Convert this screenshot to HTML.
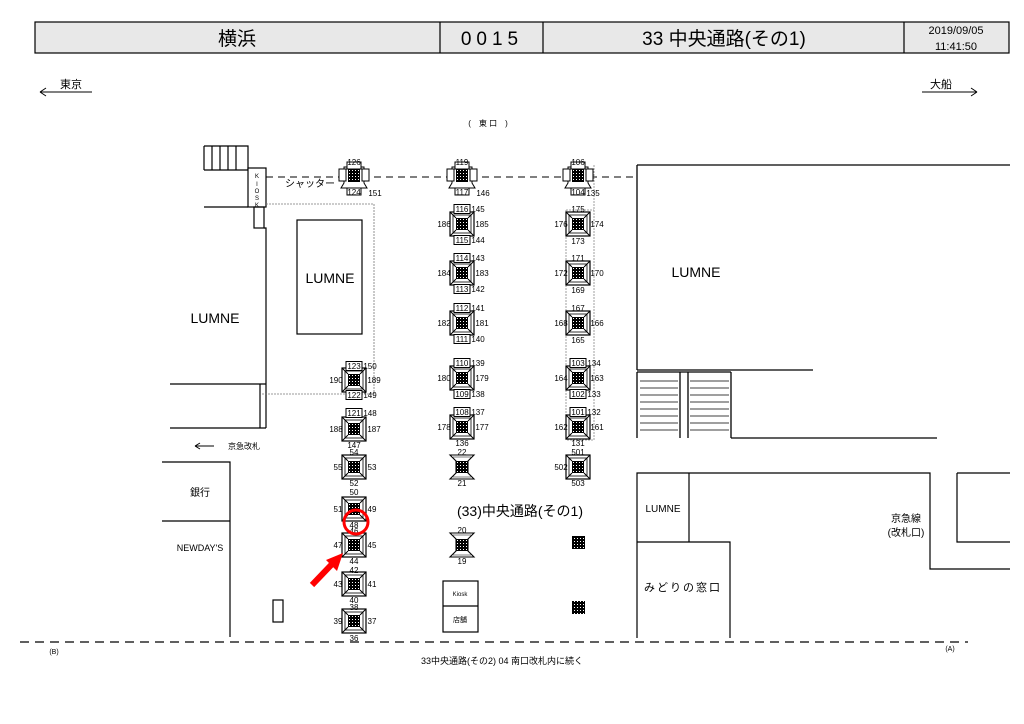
<!DOCTYPE html>
<html><head><meta charset="utf-8"><style>
html,body{margin:0;padding:0;background:#fff;}
svg{display:block;}
text{font-family:"Liberation Sans Narrow","Liberation Sans","Noto Sans CJK JP",sans-serif;fill:#000;}
.n{font-size:8px;text-anchor:middle;}
.j{font-family:"Liberation Sans","Noto Sans CJK JP",sans-serif;}
</style></head><body>
<svg width="1024" height="724" viewBox="0 0 1024 724" xmlns="http://www.w3.org/2000/svg">
<defs>
<pattern id="hp" width="3" height="3" patternUnits="userSpaceOnUse"><rect width="3" height="3" fill="#000"/><rect x="1" y="1" width="1" height="1" fill="#fff"/></pattern>
<g id="P"><rect x="-12" y="-12" width="24" height="24" fill="#fff" stroke="#000" stroke-width="1.2"/><rect x="-9" y="-9" width="18" height="18" fill="none" stroke="#000" stroke-width="0.8"/><path d="M-12,-12L-6,-6M12,-12L6,-6M-12,12L-6,6M12,12L6,6" stroke="#000"/><rect x="-6" y="-6" width="12" height="12" fill="url(#hp)"/></g>
<g id="H"><path d="M-12,-12H12L6,-6V6L12,12H-12L-6,6V-6Z" fill="#fff" stroke="#000" stroke-width="1.1"/><path d="M-9,-10H9M-9,10H9" stroke="#000" stroke-width="0.6"/><rect x="-6" y="-6" width="12" height="12" fill="url(#hp)"/></g>
<g id="C"><path d="M-10,-8H10V8L13,13H-13L-10,8Z" fill="#fff" stroke="#000"/><rect x="-6" y="-7" width="12" height="14" fill="url(#hp)"/><rect x="-15" y="-6" width="7" height="12" fill="#fff" stroke="#000"/><rect x="8" y="-6" width="7" height="12" fill="#fff" stroke="#000"/><rect x="-7" y="-13" width="14" height="7" fill="#fff" stroke="#000"/><rect x="-7" y="13" width="14" height="7" fill="#fff" stroke="#000"/></g>
<g id="B"><rect x="-8" y="-4.5" width="16" height="9" fill="#fff" stroke="#000"/></g>
</defs>

<!-- header -->
<rect x="35" y="22" width="974" height="31" fill="#e8e8e8" stroke="#000" stroke-width="1.2"/>
<path d="M440,22V53M543,22V53M904,22V53" stroke="#000" stroke-width="1.2"/>
<text x="237" y="45" font-size="19" text-anchor="middle" class="j">横浜</text>
<text x="492" y="45" font-size="19" text-anchor="middle" letter-spacing="5">0015</text>
<text x="724" y="45" font-size="19" text-anchor="middle" class="j">33 中央通路(その1)</text>
<text x="956" y="34" font-size="11" text-anchor="middle">2019/09/05</text>
<text x="956" y="50" font-size="11" text-anchor="middle">11:41:50</text>

<!-- direction arrows -->
<path d="M40,92H92M40,92l6,-4M40,92l6,4" stroke="#000" fill="none"/>
<text x="60" y="88" font-size="11" class="j">東京</text>
<path d="M922,92H977M977,92l-6,-4M977,92l-6,4" stroke="#000" fill="none"/>
<text x="930" y="88" font-size="11" class="j">大船</text>
<text x="488" y="126" font-size="8" text-anchor="middle" class="j">(　東 口　)</text>

<!-- left structures -->
<g stroke="#000" fill="none" stroke-width="1.2">
<path d="M204,146H248V170M204,146V170M212,146V170M220,146V170M228,146V170M236,146V170M204,170H248"/>
<rect x="248" y="168" width="18" height="39" fill="#fff"/>
<path d="M204,207H248"/>
<rect x="254" y="207" width="10" height="21"/>
<path d="M264,228H266V384M170,384H266M260,384V428M266,384V428M170,428H266"/>
<rect x="297" y="220" width="65" height="114"/>
</g>
<text x="257" y="178" font-size="6" text-anchor="middle">K</text>
<text x="257" y="186" font-size="6" text-anchor="middle">I</text>
<text x="257" y="193" font-size="6" text-anchor="middle">O</text>
<text x="257" y="200" font-size="6" text-anchor="middle">S</text>
<text x="257" y="207" font-size="6" text-anchor="middle">K</text>
<path d="M266,204H374V394H262" stroke="#777" fill="none" stroke-dasharray="2,1" stroke-width="0.8"/>
<text x="215" y="323" font-size="14" text-anchor="middle" class="j">LUMNE</text>
<text x="330" y="283" font-size="14" text-anchor="middle" class="j">LUMNE</text>
<path d="M266,177H636" stroke="#000" stroke-dasharray="7,5" stroke-width="1"/>
<text x="285" y="187" font-size="10" class="j">シャッター</text>
<path d="M195,446H214M195,446l5,-3M195,446l5,3" stroke="#000" fill="none"/>
<text x="228" y="449" font-size="8" class="j">京急改札</text>

<!-- right big LUMNE -->
<g stroke="#000" fill="none" stroke-width="1.3">
<path d="M637,165V370M637,165H1010M637,370H813"/>
<path d="M637,372V438M680,372V438M688,372V438M731,372V438M731,438H937M637,372H731"/>
<path d="M640,381H678M640,388H678M640,395H678M640,402H678M640,409H678M640,416H678M640,423H678M640,430H678M690,381H729M690,388H729M690,395H729M690,402H729M690,409H729M690,416H729M690,423H729M690,430H729" stroke-width="0.8"/>
</g>
<text x="696" y="277" font-size="14" text-anchor="middle" class="j">LUMNE</text>
<path d="M594,165V440M566,210H594M566,210V440H594" stroke="#888" fill="none" stroke-dasharray="2,1" stroke-width="0.8"/>

<!-- bottom blocks -->
<g stroke="#000" fill="none" stroke-width="1.2">
<path d="M162,462H230V637M162,521H230"/>
<path d="M637,638V473H930V569H1010M957,473H1010M957,473V542H1010M637,542H730V638M689,473V542"/>
<rect x="443" y="581" width="35" height="51"/><path d="M443,606H478"/>
<rect x="273" y="600" width="10" height="22"/>
</g>
<text x="200" y="496" font-size="10" text-anchor="middle" class="j">銀行</text>
<text x="200" y="551" font-size="9" text-anchor="middle" class="j">NEWDAY'S</text>
<text x="663" y="512" font-size="10" text-anchor="middle" class="j">LUMNE</text>
<text x="683" y="591" font-size="11" text-anchor="middle" class="j" letter-spacing="2">みどりの窓口</text>
<text x="906" y="522" font-size="10" text-anchor="middle" class="j">京急線</text>
<text x="906" y="536" font-size="10" text-anchor="middle" class="j">(改札口)</text>
<text x="460" y="596" font-size="6" text-anchor="middle">Kiosk</text>
<text x="460" y="622" font-size="7" text-anchor="middle" class="j">店舗</text>
<text x="520" y="516" font-size="14" text-anchor="middle" class="j">(33)中央通路(その1)</text>
<path d="M20,642H968" stroke="#000" stroke-dasharray="9,6" stroke-width="1.3"/>
<text x="54" y="654" font-size="7" text-anchor="middle">(B)</text>
<text x="950" y="651" font-size="7" text-anchor="middle">(A)</text>
<text x="502" y="664" font-size="9" text-anchor="middle" class="j">33中央通路(その2) 04 南口改札内に続く</text>

<!-- column A x=354 -->
<use href="#C" x="354" y="175"/>
<text class="n" x="354" y="165">126</text><text class="n" x="354" y="195">124</text><text class="n" x="375" y="196" text-anchor="start">151</text>
<use href="#P" x="354" y="380"/>
<use href="#B" x="354" y="366"/><text class="n" x="354" y="369">123</text><text class="n" x="370" y="369" text-anchor="start">150</text>
<use href="#B" x="354" y="395"/><text class="n" x="354" y="398">122</text><text class="n" x="370" y="398" text-anchor="start">149</text>
<text class="n" x="336" y="383">190</text><text class="n" x="374" y="383">189</text>
<use href="#P" x="354" y="429"/>
<use href="#B" x="354" y="413"/><text class="n" x="354" y="416">121</text><text class="n" x="370" y="416" text-anchor="start">148</text>
<text class="n" x="336" y="432">188</text><text class="n" x="374" y="432">187</text><text class="n" x="354" y="448">147</text>
<use href="#P" x="354" y="467"/><text class="n" x="354" y="455">54</text><text class="n" x="338" y="470">55</text><text class="n" x="372" y="470">53</text><text class="n" x="354" y="486">52</text>
<use href="#P" x="354" y="509"/><text class="n" x="354" y="495">50</text><text class="n" x="338" y="512">51</text><text class="n" x="372" y="512">49</text><text class="n" x="354" y="528">48</text>
<use href="#P" x="354" y="545"/><text class="n" x="354" y="534">46</text><text class="n" x="338" y="548">47</text><text class="n" x="372" y="548">45</text><text class="n" x="354" y="564">44</text>
<use href="#P" x="354" y="584"/><text class="n" x="354" y="573">42</text><text class="n" x="338" y="587">43</text><text class="n" x="372" y="587">41</text><text class="n" x="354" y="603">40</text>
<use href="#P" x="354" y="621"/><text class="n" x="354" y="610">38</text><text class="n" x="338" y="624">39</text><text class="n" x="372" y="624">37</text><text class="n" x="354" y="641">36</text>

<!-- column B x=462 -->
<use href="#C" x="462" y="175"/>
<text class="n" x="462" y="165">119</text><text class="n" x="462" y="195">117</text><text class="n" x="483" y="196" text-anchor="start">146</text>
<g>
<use href="#P" x="462" y="224"/><use href="#B" x="462" y="209"/><use href="#B" x="462" y="240"/>
<text class="n" x="462" y="212">116</text><text class="n" x="478" y="212" text-anchor="start">145</text><text class="n" x="462" y="243">115</text><text class="n" x="478" y="243" text-anchor="start">144</text><text class="n" x="444" y="227">186</text><text class="n" x="482" y="227">185</text>
<use href="#P" x="462" y="273"/><use href="#B" x="462" y="258"/><use href="#B" x="462" y="289"/>
<text class="n" x="462" y="261">114</text><text class="n" x="478" y="261" text-anchor="start">143</text><text class="n" x="462" y="292">113</text><text class="n" x="478" y="292" text-anchor="start">142</text><text class="n" x="444" y="276">184</text><text class="n" x="482" y="276">183</text>
<use href="#P" x="462" y="323"/><use href="#B" x="462" y="308"/><use href="#B" x="462" y="339"/>
<text class="n" x="462" y="311">112</text><text class="n" x="478" y="311" text-anchor="start">141</text><text class="n" x="462" y="342">111</text><text class="n" x="478" y="342" text-anchor="start">140</text><text class="n" x="444" y="326">182</text><text class="n" x="482" y="326">181</text>
<use href="#P" x="462" y="378"/><use href="#B" x="462" y="363"/><use href="#B" x="462" y="394"/>
<text class="n" x="462" y="366">110</text><text class="n" x="478" y="366" text-anchor="start">139</text><text class="n" x="462" y="397">109</text><text class="n" x="478" y="397" text-anchor="start">138</text><text class="n" x="444" y="381">180</text><text class="n" x="482" y="381">179</text>
<use href="#P" x="462" y="427"/><use href="#B" x="462" y="412"/>
<text class="n" x="462" y="415">108</text><text class="n" x="478" y="415" text-anchor="start">137</text><text class="n" x="462" y="446">136</text><text class="n" x="444" y="430">178</text><text class="n" x="482" y="430">177</text>
<use href="#H" x="462" y="467"/><text class="n" x="462" y="455">22</text><text class="n" x="462" y="486">21</text>
<use href="#H" x="462" y="545"/><text class="n" x="462" y="533">20</text><text class="n" x="462" y="564">19</text>
</g>

<!-- column C x=578 -->
<use href="#C" x="578" y="175"/>
<text class="n" x="578" y="165">106</text><text class="n" x="578" y="195">104</text><text class="n" x="593" y="196" text-anchor="start">135</text>
<use href="#P" x="578" y="224"/><text class="n" x="578" y="212">175</text><text class="n" x="561" y="227">176</text><text class="n" x="597" y="227">174</text><text class="n" x="578" y="244">173</text>
<use href="#P" x="578" y="273"/><text class="n" x="578" y="261">171</text><text class="n" x="561" y="276">172</text><text class="n" x="597" y="276">170</text><text class="n" x="578" y="293">169</text>
<use href="#P" x="578" y="323"/><text class="n" x="578" y="311">167</text><text class="n" x="561" y="326">168</text><text class="n" x="597" y="326">166</text><text class="n" x="578" y="343">165</text>
<use href="#P" x="578" y="378"/><use href="#B" x="578" y="363"/><use href="#B" x="578" y="394"/>
<text class="n" x="578" y="366">103</text><text class="n" x="594" y="366" text-anchor="start">134</text><text class="n" x="578" y="397">102</text><text class="n" x="594" y="397" text-anchor="start">133</text><text class="n" x="561" y="381">164</text><text class="n" x="597" y="381">163</text>
<use href="#P" x="578" y="427"/><use href="#B" x="578" y="412"/>
<text class="n" x="578" y="415">101</text><text class="n" x="594" y="415" text-anchor="start">132</text><text class="n" x="578" y="446">131</text><text class="n" x="561" y="430">162</text><text class="n" x="597" y="430">161</text>
<use href="#P" x="578" y="467"/><text class="n" x="578" y="455">501</text><text class="n" x="561" y="470">502</text><text class="n" x="578" y="486">503</text>
<rect x="572" y="536" width="13" height="13" fill="url(#hp)"/>
<rect x="572" y="601" width="13" height="13" fill="url(#hp)"/>

<!-- red marks -->
<circle cx="356" cy="522" r="12" fill="none" stroke="#f00" stroke-width="3"/>
<path d="M312,585L334,562" stroke="#f00" stroke-width="6"/>
<path d="M343,553L326,560L337,571Z" fill="#f00"/>
</svg>
</body></html>
